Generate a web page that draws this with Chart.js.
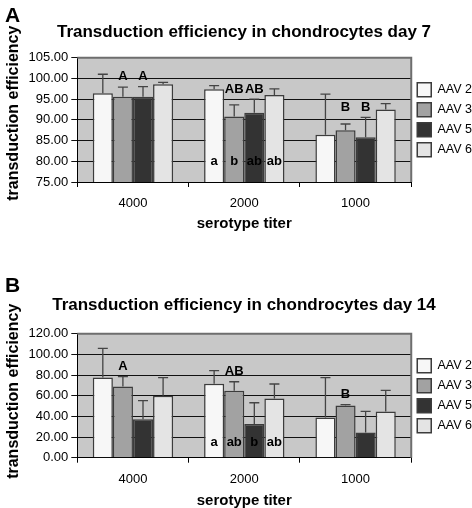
<!DOCTYPE html>
<html>
<head>
<meta charset="utf-8">
<script src="https://cdn.jsdelivr.net/npm/chart.js@4.4.1/dist/chart.umd.min.js"></script>
<style>
  body { margin: 0; background: #fff; }
  #wrap { position: relative; width: 472px; height: 508px; }
  canvas { position: absolute; left: 0; }
</style>
</head>
<body>
<div id="wrap">
  <canvas id="day7" width="472" height="250" style="top:0"></canvas>
  <canvas id="day14" width="472" height="258" style="top:250px"></canvas>
</div>
<script>
// categories and series
const titers = ["4000", "2000", "1000"];
const serotypes = ["AAV 2", "AAV 3", "AAV 5", "AAV 6"];

// day 7 means and upper error (one row per serotype)
const day7Means = [
  [96.4, 97.4, 86.4],
  [95.6, 90.8, 87.5],
  [95.6, 91.7, 85.8],
  [98.6, 96.0, 92.5]
];
const day7Errors = [
  [4.6, 0.85, 9.8],
  [2.3, 2.8, 1.5],
  [2.4, 3.3, 4.8],
  [0.45, 1.5, 1.4]
];
const day7Upper = [["", "", ""], ["A", "AB", "B"], ["A", "AB", "B"], ["", "", ""]];
const day7Lower = [["", "a", ""], ["", "b", ""], ["", "ab", ""], ["", "ab", ""]];
const day7Ticks = [75, 80, 85, 90, 95, 100, 105];

// day 14
const day14Means = [
  [77.7, 71.6, 39.0],
  [69.0, 64.8, 50.6],
  [37.1, 32.6, 24.5],
  [60.0, 57.4, 44.8]
];
const day14Errors = [
  [28.1, 12.6, 38.4],
  [9.4, 8.7, 0.7],
  [18.1, 20.6, 20.3],
  [17.4, 13.9, 20.4]
];
const day14Upper = [["", "", ""], ["A", "AB", "B"], ["", "", ""], ["", "", ""]];
const day14Lower = [["", "a", ""], ["", "ab", ""], ["", "b", ""], ["", "ab", ""]];
const day14Ticks = [0, 20, 40, 60, 80, 100, 120];

const fills = ["#f7f7f7", "#a2a2a2", "#333333", "#e4e4e4"];
const FONT = '"Liberation Sans", Arial, Helvetica, sans-serif';
Chart.defaults.font.family = FONT;
Chart.defaults.color = "#000";

// gray plot background + top/right frame + panel letter
const plotFrame = {
  id: "plotFrame",
  beforeDraw(chart) {
    const { ctx, chartArea: a } = chart;
    ctx.save();
    ctx.fillStyle = "#c8c8c8";
    ctx.fillRect(a.left, a.top, a.width, a.height);
    ctx.restore();
  },
  afterDraw(chart, args, opts) {
    const { ctx, chartArea: a } = chart;
    ctx.save();
    ctx.strokeStyle = "#6e6e6e";
    ctx.lineWidth = 2;
    ctx.beginPath();
    ctx.moveTo(a.left, a.top);
    ctx.lineTo(a.right, a.top);
    ctx.lineTo(a.right, a.bottom);
    ctx.stroke();
    ctx.fillStyle = "#000";
    ctx.font = "bold 21px " + FONT;
    ctx.textAlign = "left";
    ctx.textBaseline = "alphabetic";
    ctx.fillText(opts.panel, 5, opts.panelY);
    ctx.restore();
  }
};

// upward error bars + significance letters
const errorLetters = {
  id: "errorLetters",
  afterDatasetsDraw(chart, args, opts) {
    const { ctx } = chart;
    const y = chart.scales.y;
    const sets = chart.data.datasets;
    ctx.save();
    ctx.strokeStyle = "#444";
    ctx.lineWidth = 1.3;
    sets.forEach((ds, i) => {
      chart.getDatasetMeta(i).data.forEach((bar, j) => {
        const top = y.getPixelForValue(ds.data[j] + ds.errors[j]);
        ctx.beginPath();
        ctx.moveTo(bar.x, bar.y);
        ctx.lineTo(bar.x, top);
        ctx.moveTo(bar.x - 5, top);
        ctx.lineTo(bar.x + 5, top);
        ctx.stroke();
      });
    });
    ctx.fillStyle = "#000";
    ctx.font = "bold 13px " + FONT;
    ctx.textAlign = "center";
    ctx.textBaseline = "middle";
    chart.data.labels.forEach((lab, j) => {
      let maxTop = -Infinity;
      sets.forEach(ds => {
        if (ds.upper[j]) maxTop = Math.max(maxTop, ds.data[j] + ds.errors[j]);
      });
      sets.forEach((ds, i) => {
        const bar = chart.getDatasetMeta(i).data[j];
        if (ds.upper[j]) ctx.fillText(ds.upper[j], bar.x, y.getPixelForValue(maxTop) - 10);
        if (ds.lower[j]) ctx.fillText(ds.lower[j], bar.x, y.bottom - opts.lowerOffset);
      });
    });
    ctx.restore();
  }
};

function makeChart(id, opts) {
  const datasets = serotypes.map((name, i) => ({
    label: name,
    data: opts.means[i],
    errors: opts.errors[i],
    upper: opts.upper[i],
    lower: opts.lower[i],
    backgroundColor: fills[i],
    borderColor: "#3c3c3c",
    borderWidth: 1.5,
    categoryPercentage: 0.722,
    barPercentage: 1.0
  }));
  return new Chart(document.getElementById(id), {
    type: "bar",
    data: { labels: titers, datasets },
    plugins: [plotFrame, errorLetters],
    options: {
      responsive: false,
      devicePixelRatio: 1,
      animation: false,
      layout: { padding: { left: 6, right: -10, top: 0, bottom: opts.padBottom } },
      plugins: {
        tooltip: { enabled: false },
        plotFrame: { panel: opts.panel, panelY: opts.panelY },
        errorLetters: { lowerOffset: opts.lowerOffset },
        title: {
          display: true,
          text: opts.title,
          color: "#000",
          font: { size: 17, weight: "bold" },
          padding: { top: opts.titleTop, bottom: opts.titleBottom }
        },
        legend: {
          position: "right",
          fullSize: false,
          labels: {
            boxWidth: 14,
            boxHeight: 14,
            padding: 6,
            color: "#000",
            font: { size: 12.5 }
          }
        }
      },
      scales: {
        x: {
          grid: { drawOnChartArea: false, drawTicks: true, tickLength: 5, color: "#000", offset: true },
          border: { color: "#000", width: 1 },
          ticks: { color: "#000", font: { size: 13 }, padding: 9 },
          title: {
            display: true,
            text: "serotype titer",
            color: "#000",
            font: { size: 15, weight: "bold", lineHeight: 1 },
            padding: 0
          },
          afterFit: s => { s.height = opts.xHeight; }
        },
        y: {
          min: opts.ticks[0],
          max: opts.ticks[opts.ticks.length - 1],
          afterBuildTicks: s => { s.ticks = opts.ticks.map(v => ({ value: v })); },
          grid: { color: "#111", tickLength: 6, lineWidth: 1 },
          border: { color: "#000", width: 1 },
          ticks: { color: "#000", font: { size: 13 }, padding: 3, callback: v => Number(v).toFixed(2) },
          title: {
            display: true,
            text: opts.yTitle,
            color: "#000",
            font: { size: 16, weight: "bold", lineHeight: 1 },
            padding: 0
          },
          afterFit: s => { s.width = 71.3; }
        }
      }
    }
  });
}

makeChart("day7", {
  means: day7Means, errors: day7Errors, upper: day7Upper, lower: day7Lower, ticks: day7Ticks,
  title: "Transduction efficiency in chondrocytes day 7",
  yTitle: "   transduction efficiency",
  panel: "A", panelY: 22,
  titleTop: 21.8, titleBottom: 15.5,
  xHeight: 49, padBottom: 19,
  lowerOffset: 21
});

makeChart("day14", {
  means: day14Means, errors: day14Errors, upper: day14Upper, lower: day14Lower, ticks: day14Ticks,
  title: "Transduction efficiency in chondrocytes day 14",
  yTitle: "  transduction efficiency",
  panel: "B", panelY: 42,
  titleTop: 44.8, titleBottom: 18.5,
  xHeight: 50.3, padBottom: 0,
  lowerOffset: 15.5
});
</script>
</body>
</html>
